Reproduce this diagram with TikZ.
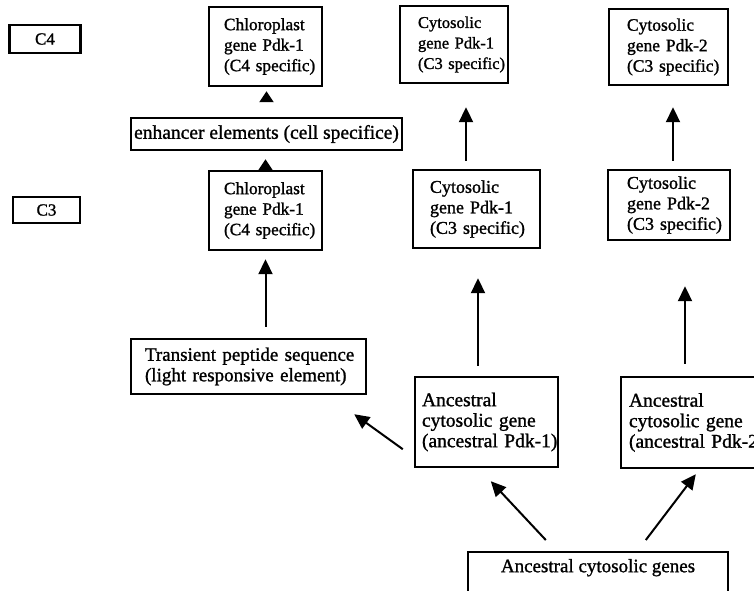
\documentclass[tikz,border=0pt]{standalone}
\usepackage{fontspec}
\setmainfont[FakeBold=1.2]{Liberation Serif}
\usetikzlibrary{arrows.meta,calc}
\newcommand\fsz[1]{\fontsize{#1}{20.5}\selectfont}
\begin{document}
\begin{tikzpicture}[x=1pt,y=-1pt,
  box/.style={draw=black, line width=2.4pt, rectangle, align=left, inner ysep=0pt,
    font=\fsz{18}},
  arr/.style={line width=2pt, -{Triangle[width=14pt,length=15pt]}},
  tri/.style={line width=2pt, -{Triangle[width=14pt,length=11pt]}}]
\fill[white] (0,0) rectangle (754,590);
\useasboundingbox (0,0) rectangle (754,590);

% level labels
\node[box, font=\fsz{17}, align=center, minimum width=71pt, minimum height=28pt, inner xsep=2pt] (c4lab) at (45,39) {C4};
\node[box, font=\fsz{17}, align=center, minimum width=67pt, minimum height=26pt, inner xsep=2pt] (c3lab) at (46.5,210) {C3};

% C4 row
\node[box, font=\fsz{17.3}, minimum width=113pt, minimum height=79pt, inner xsep=15pt, text width=83pt] (chl4) at (265.5,46.5)
  {\mbox{Chloroplast}\\\mbox{gene Pdk-1}\\\mbox{(C4 specific)}};
\node[box, font=\fsz{16.5}, minimum width=108pt, minimum height=77pt, inner xsep=18pt, text width=72pt] (cyt1c4) at (454,44.5)
  {\mbox{Cytosolic}\\\mbox{gene Pdk-1}\\\mbox{(C3 specific)}};
\node[box, font=\fsz{17.5}, minimum width=119pt, minimum height=76pt, inner xsep=18pt, text width=83pt] (cyt2c4) at (668.5,47)
  {\mbox{Cytosolic}\\\mbox{gene Pdk-2}\\\mbox{(C3 specific)}};

% enhancer
\node[box, font=\fsz{19.5}, align=center, minimum width=271pt, minimum height=32pt, inner xsep=1pt] (enh) at (266.5,134)
  {enhancer elements (cell specifice)};

% C3 row
\node[box, font=\fsz{17.3}, minimum width=113pt, minimum height=79pt, inner xsep=15pt, text width=83pt] (chl3) at (265.5,210.5)
  {\mbox{Chloroplast}\\\mbox{gene Pdk-1}\\\mbox{(C4 specific)}};
\node[box, minimum width=127pt, minimum height=78pt, inner xsep=17pt, text width=93pt] (cyt1c3) at (476.5,209)
  {\mbox{Cytosolic}\\\mbox{gene Pdk-1}\\\mbox{(C3 specific)}};
\node[box, minimum width=122pt, minimum height=70pt, inner xsep=19pt, text width=84pt] (cyt2c3) at (669,205)
  {\mbox{Cytosolic}\\\mbox{gene Pdk-2}\\\mbox{(C3 specific)}};

% lower boxes
\node[box, font=\fsz{19}, minimum width=235pt, minimum height=55pt, inner xsep=14pt, text width=207pt] (trans) at (248.5,366.5)
  {\mbox{Transient peptide sequence}\\\mbox{(light responsive element)}};
\node[box, font=\fsz{19.5}, minimum width=143pt, minimum height=90pt, inner xsep=7pt, text width=129pt] (anc1) at (486.5,422)
  {\mbox{Ancestral}\\\mbox{cytosolic gene}\\\mbox{(ancestral Pdk-1)}};
\node[box, font=\fsz{19.5}, minimum width=149pt, minimum height=91pt, inner xsep=8pt, text width=133pt] (anc2) at (695.5,422.5)
  {\mbox{Ancestral}\\\mbox{cytosolic gene}\\\mbox{(ancestral Pdk-2)}};
\node[box, font=\fsz{19}, align=center, anchor=north, minimum width=260pt, inner ysep=3pt, inner xsep=2pt,
  text height=17pt, text depth=40pt] (anc) at (598,551) {Ancestral cytosolic genes};

% connectors
\draw[tri, shorten <=17pt, shorten >=4pt] (enh.north) -- (enh.north |- chl4.south);
\draw[tri, shorten <=1pt, shorten >=8pt] (chl3.north) -- (chl3.north |- enh.south);
\draw[arr, shorten <=11pt, shorten >=8pt] (chl3.south |- trans.north) -- (chl3.south);
\draw[arr, shorten <=8pt, shorten >=23pt] (466,0 |- cyt1c3.north) -- (466,0 |- cyt1c4.south);
\draw[arr, shorten <=8pt, shorten >=21pt] (673,0 |- cyt2c3.north) -- (673,0 |- cyt2c4.south);
\draw[arr, shorten <=10pt, shorten >=29pt] (478,0 |- anc1.north) -- (478,0 |- cyt1c3.south);
\draw[arr, shorten <=12pt, shorten >=45pt] (685,0 |- anc2.north) -- (685,0 |- cyt2c3.south);
\draw[arr] ($(anc1.south west)+(-11,-19)$) -- ($(trans.south east)+(-13,19)$);
\draw[arr] ($(anc.north west)+(79,-11)$) -- ($(anc1.south west)+(77,13)$);
\draw[arr] ($(anc.north west)+(179,-11)$) -- ($(anc2.south west)+(76,5)$);
\end{tikzpicture}
\end{document}
